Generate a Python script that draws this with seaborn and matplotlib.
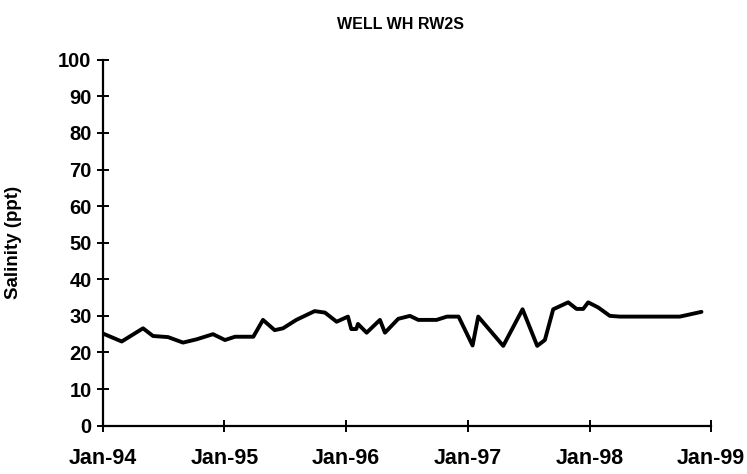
import matplotlib
matplotlib.use("Agg")
import matplotlib.pyplot as plt
import pandas as pd
import seaborn as sns

sample_dates = [
    "1994-01-01", "1994-02-27", "1994-05-02", "1994-06-01", "1994-07-16",
    "1994-08-30", "1994-10-10", "1994-11-28", "1995-01-03", "1995-02-02",
    "1995-03-29", "1995-04-27", "1995-06-01", "1995-06-26", "1995-08-05",
    "1995-09-29", "1995-10-30", "1995-12-04", "1996-01-07", "1996-01-17",
    "1996-02-01", "1996-02-06", "1996-03-03", "1996-04-12", "1996-04-27",
    "1996-06-06", "1996-07-11", "1996-08-05", "1996-09-29", "1996-10-30",
    "1996-12-04", "1997-01-15", "1997-02-01", "1997-04-17", "1997-06-14",
    "1997-07-28", "1997-08-20", "1997-09-14", "1997-10-29", "1997-11-23",
    "1997-12-13", "1997-12-28", "1998-01-27", "1998-03-03", "1998-04-02",
    "1998-09-29", "1998-12-03",
]
salinity = [
    25.2, 23.0, 26.6, 24.5, 24.2,
    22.7, 23.6, 25.0, 23.4, 24.3,
    24.3, 28.9, 26.1, 26.6, 28.9,
    31.3, 30.9, 28.4, 29.8, 26.4,
    26.4, 27.8, 25.4, 28.9, 25.4,
    29.2, 30.0, 28.9, 28.9, 29.8,
    29.8, 21.9, 29.8, 21.8, 31.8,
    21.8, 23.4, 31.8, 33.7, 31.9,
    31.9, 33.7, 32.3, 30.0, 29.8,
    29.8, 31.1,
]
x_tick_labels = ["Jan-94", "Jan-95", "Jan-96", "Jan-97", "Jan-98", "Jan-99"]
x_tick_dates = ["1994-01-01", "1995-01-01", "1996-01-01", "1997-01-01",
                "1998-01-01", "1999-01-01"]
y_ticks = list(range(0, 101, 10))

sns.set_theme(style="white")
plt.rcParams["font.family"] = ["Liberation Sans", "DejaVu Sans"]

df = pd.DataFrame({"date": pd.to_datetime(sample_dates), "salinity": salinity})

fig = plt.figure(figsize=(7.47, 4.74), dpi=100)
ax = fig.add_axes([0.1375, 0.102, 0.8145, 0.772])

sns.lineplot(data=df, x="date", y="salinity", ax=ax, color="black",
             linewidth=2.8, estimator=None, sort=False)

ax.set_xlim(pd.Timestamp(x_tick_dates[0]), pd.Timestamp(x_tick_dates[-1]))
ax.set_ylim(0, 100)
ax.set_xticks(pd.to_datetime(x_tick_dates))
ax.set_xticklabels(x_tick_labels)
ax.set_yticks(y_ticks)

for side in ("top", "right"):
    ax.spines[side].set_visible(False)
for side in ("left", "bottom"):
    ax.spines[side].set_color("black")
    ax.spines[side].set_linewidth(1.6)

ax.tick_params(axis="both", which="major", bottom=True, left=True,
               direction="inout", length=8, width=1.4, colors="black")
ax.tick_params(axis="x", pad=12, labelsize=15.5)
ax.tick_params(axis="y", pad=4, labelsize=14.5)
for lab in ax.get_xticklabels() + ax.get_yticklabels():
    lab.set_fontweight("bold")

ax.set_xlabel("")
ax.set_ylabel("Salinity (ppt)", fontsize=13.5, fontweight="bold",
              color="black", labelpad=26)
ax.set_title("WELL WH RW2S", fontsize=11.5, fontweight="bold",
             color="black", pad=22, x=0.49)

fig.savefig("out.png", dpi=100, facecolor="white")
